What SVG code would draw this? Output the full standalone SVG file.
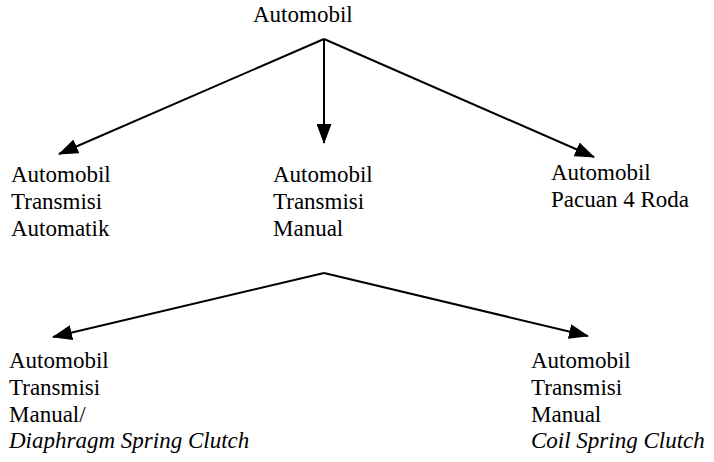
<svg xmlns="http://www.w3.org/2000/svg" width="714" height="462" viewBox="0 0 714 462">
<defs>
<marker id="ah" viewBox="0 0 20 15" refX="19" refY="7.5" markerWidth="20" markerHeight="15" markerUnits="userSpaceOnUse" orient="auto">
<path d="M0,0 L20,7.5 L0,15 z" fill="#000"/>
</marker>
<style>
text{font-family:'Liberation Serif','Tinos','DejaVu Serif','Noto Serif',serif;font-size:23px;fill:#000}
.it{font-style:italic}
.c{stroke:#000;stroke-width:2;fill:none;marker-end:url(#ah)}
</style>
</defs>
<rect width="714" height="462" fill="#fff"/>
<g id="connectors">
<line class="c" x1="324" y1="39" x2="59" y2="154"/>
<line class="c" x1="324" y1="39" x2="324" y2="143"/>
<line class="c" x1="324" y1="39" x2="594" y2="157"/>
<line class="c" x1="324" y1="273" x2="53" y2="337"/>
<line class="c" x1="324" y1="273" x2="588" y2="336"/>
</g>
<g id="root"><text x="253" y="22">Automobil</text></g>
<g id="automatik"><text x="11" y="182">Automobil</text><text x="11" y="209">Transmisi</text><text x="11" y="236">Automatik</text></g>
<g id="manual"><text x="273" y="182">Automobil</text><text x="273" y="209">Transmisi</text><text x="273" y="236">Manual</text></g>
<g id="pacuan4"><text x="551" y="180">Automobil</text><text x="551" y="207">Pacuan 4 Roda</text></g>
<g id="diaphragm"><text x="9" y="368">Automobil</text><text x="9" y="395">Transmisi</text><text x="9" y="422">Manual/</text><text class="it" x="9" y="448">Diaphragm Spring Clutch</text></g>
<g id="coil"><text x="531" y="368">Automobil</text><text x="531" y="395">Transmisi</text><text x="531" y="422">Manual</text><text class="it" x="531" y="448">Coil Spring Clutch</text></g>
</svg>
